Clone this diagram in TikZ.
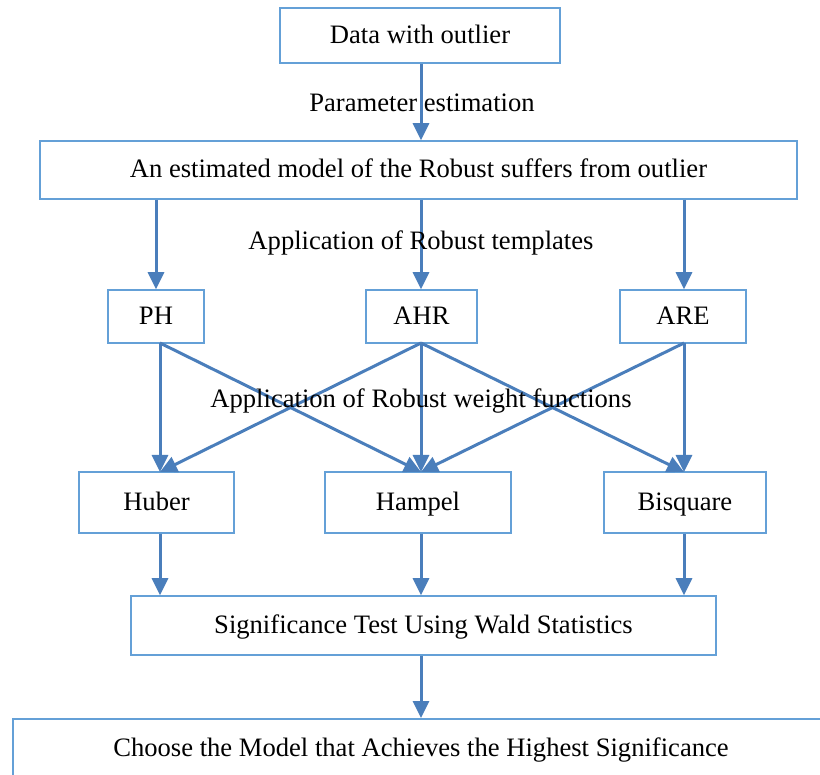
\documentclass[tikz,border=0pt]{standalone}
\usepackage{fontspec}
\setmainfont{Liberation Serif}
\usetikzlibrary{arrows.meta}
\definecolor{boxblue}{RGB}{100,160,215}
\definecolor{arrblue}{RGB}{74,126,187}
\begin{document}
\begin{tikzpicture}[x=1pt,y=-1pt,
  box/.style={draw=boxblue,line width=1.6pt,rectangle,inner sep=0pt,
    text height=22pt,text depth=6pt,
    font=\fontsize{26.6}{30}\selectfont},
  conn/.style={draw=arrblue,line width=3pt,-{Triangle[length=17pt,width=16pt]}},
  lbl/.style={inner sep=0pt,text height=22pt,text depth=6pt,font=\fontsize{26.6}{30}\selectfont}]
\useasboundingbox (0,0) rectangle (820,775);
\clip (0,0) rectangle (820,775);
\node[box,minimum width=280pt,minimum height=55pt] (D) at (420,35.5) {Data with outlier};
\node[box,minimum width=757pt,minimum height=58pt] (E) at (418.5,170) {An estimated model of the Robust suffers from outlier};
\node[box,minimum width=96pt,minimum height=53pt] (PH) at (156,316.5) {PH};
\node[box,minimum width=111pt,minimum height=53pt] (AHR) at (421.5,316.5) {AHR};
\node[box,minimum width=126pt,minimum height=53pt] (ARE) at (683,316.5) {ARE};
\node[box,minimum width=155pt,minimum height=61pt] (HU) at (156.5,502.5) {Huber};
\node[box,minimum width=186pt,minimum height=61pt] (HA) at (418,502.5) {Hampel};
\node[box,minimum width=162pt,minimum height=61pt] (BI) at (685,502.5) {Bisquare};
\node[box,minimum width=585pt,minimum height=59pt] (S) at (423.5,625.5) {Significance Test Using Wald Statistics};
\node[box,minimum width=820pt,minimum height=70pt,anchor=north west] (C) at (12,718) {};
\node[lbl] (Ct) at (421,748) {Choose the Model that Achieves the Highest Significance};
\coordinate (PHb) at (160,343);
\coordinate (AHRb) at (421,343);
\coordinate (AREb) at (684,343);
\coordinate (HUt) at (160,472);
\coordinate (HAt) at (421,472);
\coordinate (BIt) at (684,472);
\draw[conn] (D.south -| AHRb) -- (E.north -| AHRb);
\draw[conn] (E.south -| PH) -- (PH.north);
\draw[conn] (E.south -| AHRb) -- (AHR.north -| AHRb);
\draw[conn] (E.south -| AREb) -- (ARE.north -| AREb);
\draw[conn] (PHb) -- (HUt);
\draw[conn] (PHb) -- (HAt);
\draw[conn] (AHRb) -- (HUt);
\draw[conn] (AHRb) -- (HAt);
\draw[conn] (AHRb) -- (BIt);
\draw[conn] (AREb) -- (HAt);
\draw[conn] (AREb) -- (BIt);
\draw[conn] (HU.south -| HUt) -- (S.north -| HUt);
\draw[conn] (HA.south -| HAt) -- (S.north -| HAt);
\draw[conn] (BI.south -| BIt) -- (S.north -| BIt);
\draw[conn] (S.south -| HAt) -- (C.north -| HAt);
\node[lbl] (L1) at (422,104) {Parameter estimation};
\node[lbl] (L2) at (421,242) {Application of Robust templates};
\node[lbl] (L3) at (421,400) {Application of Robust weight functions};
\end{tikzpicture}
\end{document}
